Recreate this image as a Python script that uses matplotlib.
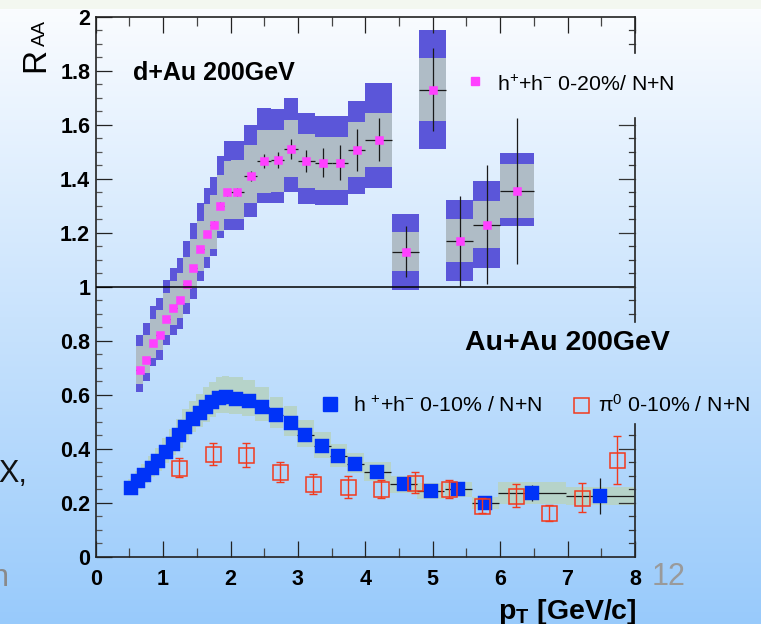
import numpy as np
import matplotlib
matplotlib.use('Agg')
import matplotlib.pyplot as plt
from matplotlib.patches import Rectangle

plt.rcParams['font.family'] = ['Liberation Sans', 'DejaVu Sans']
plt.rcParams['mathtext.fontset'] = 'custom'
plt.rcParams['mathtext.rm'] = 'Liberation Sans'
plt.rcParams['mathtext.it'] = 'Liberation Sans:italic'
plt.rcParams['mathtext.bf'] = 'Liberation Sans:bold'

# d+Au 200GeV, h+ + h- 0-20% / N+N
dau_pt = [0.65, 0.75, 0.85, 0.95, 1.05, 1.15, 1.25, 1.35, 1.45, 1.55, 1.65, 1.75, 1.85, 1.95,
          2.1, 2.3, 2.5, 2.7, 2.9, 3.125, 3.375, 3.625, 3.875, 4.2, 4.6, 5.0, 5.4, 5.8, 6.25]
dau_hw = [0.05, 0.05, 0.05, 0.05, 0.05, 0.05, 0.05, 0.05, 0.05, 0.05, 0.05, 0.05, 0.05, 0.05,
          0.1, 0.1, 0.1, 0.1, 0.1, 0.125, 0.125, 0.125, 0.125, 0.2, 0.2, 0.2, 0.2, 0.2, 0.25]
dau_r = [0.69, 0.73, 0.79, 0.82, 0.88, 0.92, 0.95, 1.01, 1.07, 1.14, 1.195, 1.23, 1.30, 1.35,
         1.35, 1.41, 1.465, 1.47, 1.51, 1.465, 1.46, 1.46, 1.505, 1.545, 1.13, 1.73, 1.17, 1.23, 1.355]
dau_stat = [0.008, 0.008, 0.008, 0.008, 0.008, 0.008, 0.009, 0.009, 0.01, 0.01, 0.011, 0.012, 0.012, 0.013,
            0.015, 0.02, 0.025, 0.03, 0.037, 0.042, 0.053, 0.065, 0.078, 0.08, 0.095, 0.155, 0.167, 0.22, 0.27]
dau_sys_up = [0.09, 0.09, 0.09, 0.095, 0.095, 0.1, 0.1, 0.1, 0.105, 0.105, 0.11, 0.11, 0.115, 0.115,
              0.12, 0.115, 0.115, 0.11, 0.108, 0.1, 0.095, 0.095, 0.104, 0.1, 0.073, 0.117, 0.08, 0.086, 0.1]
dau_sys_dn = [0.05, 0.05, 0.055, 0.055, 0.06, 0.06, 0.065, 0.07, 0.075, 0.08, 0.085, 0.09, 0.095, 0.1,
              0.1, 0.1, 0.117, 0.12, 0.103, 0.1, 0.1, 0.1, 0.1, 0.1, 0.073, 0.117, 0.08, 0.086, 0.1]
dau_tot_up = [0.13, 0.135, 0.14, 0.14, 0.145, 0.15, 0.155, 0.16, 0.165, 0.17, 0.17, 0.175, 0.185, 0.19,
              0.19, 0.19, 0.195, 0.19, 0.19, 0.178, 0.174, 0.174, 0.182, 0.21, 0.141, 0.219, 0.15, 0.16, 0.14]
dau_tot_dn = [0.08, 0.08, 0.085, 0.09, 0.095, 0.1, 0.105, 0.11, 0.115, 0.12, 0.125, 0.115, 0.12, 0.14,
              0.14, 0.15, 0.156, 0.16, 0.158, 0.158, 0.158, 0.158, 0.161, 0.18, 0.141, 0.219, 0.15, 0.16, 0.13]

# Au+Au 200GeV, h+ + h- 0-10% / N+N
auau_pt = [0.53, 0.63, 0.72, 0.83, 0.93, 1.04, 1.14, 1.24, 1.33, 1.44, 1.54, 1.64, 1.73, 1.83, 1.93,
           2.08, 2.27, 2.47, 2.68, 2.89, 3.11, 3.36, 3.60, 3.85, 4.18, 4.57, 4.97, 5.38, 5.78, 6.47, 7.48]
auau_hw = [0.05, 0.05, 0.05, 0.05, 0.05, 0.05, 0.05, 0.05, 0.05, 0.05, 0.05, 0.05, 0.05, 0.05, 0.05,
           0.1, 0.1, 0.1, 0.1, 0.1, 0.125, 0.125, 0.125, 0.125, 0.2, 0.2, 0.2, 0.2, 0.2, 0.5, 0.5]
auau_r = [0.255, 0.28, 0.304, 0.328, 0.354, 0.386, 0.418, 0.449, 0.482, 0.511, 0.534, 0.554, 0.572, 0.587, 0.59,
          0.585, 0.576, 0.556, 0.525, 0.495, 0.451, 0.411, 0.374, 0.345, 0.315, 0.268, 0.244, 0.25, 0.2, 0.237, 0.225]
auau_stat = [0.003, 0.003, 0.003, 0.003, 0.003, 0.003, 0.003, 0.003, 0.003, 0.003, 0.003, 0.003, 0.003, 0.003, 0.003,
             0.004, 0.004, 0.004, 0.005, 0.005, 0.006, 0.006, 0.007, 0.008, 0.01, 0.012, 0.015, 0.018, 0.022, 0.03, 0.065]
auau_sys_up = [0.032, 0.036, 0.04, 0.044, 0.048, 0.052, 0.056, 0.06, 0.064, 0.067, 0.07, 0.073, 0.076, 0.078, 0.08,
               0.08, 0.078, 0.074, 0.068, 0.062, 0.055, 0.05, 0.045, 0.04, 0.036, 0.031, 0.03, 0.028, 0.022, 0.04, 0.035]
auau_sys_dn = [0.028, 0.03, 0.032, 0.034, 0.036, 0.039, 0.042, 0.045, 0.048, 0.05, 0.052, 0.054, 0.055, 0.056, 0.056,
               0.056, 0.055, 0.053, 0.05, 0.048, 0.046, 0.044, 0.04, 0.036, 0.034, 0.031, 0.03, 0.028, 0.022, 0.04, 0.035]

# Au+Au pi0 0-10% / N+N
pi0_pt = [1.24, 1.74, 2.23, 2.73, 3.23, 3.74, 4.23, 4.73, 5.24, 5.73, 6.24, 6.73, 7.22, 7.74]
pi0_r = [0.33, 0.38, 0.377, 0.315, 0.27, 0.259, 0.25, 0.274, 0.251, 0.189, 0.226, 0.161, 0.219, 0.358]
pi0_err = [0.035, 0.042, 0.044, 0.037, 0.037, 0.04, 0.034, 0.038, 0.033, 0.027, 0.042, 0.03, 0.054, 0.09]

x_ticks = [0, 1, 2, 3, 4, 5, 6, 7, 8]
x_labels = ['0', '1', '2', '3', '4', '5', '6', '7', '8']
y_ticks = [0, 0.2, 0.4, 0.6, 0.8, 1.0, 1.2, 1.4, 1.6, 1.8, 2.0]
y_labels = ['0', '0.2', '0.4', '0.6', '0.8', '1', '1.2', '1.4', '1.6', '1.8', '2']

c_mag = '#ff40ff'
c_box_out = '#5b56d9'
c_box_in = '#afbcc6'
c_blue = '#0033f8'
c_band = '#b6d3c9'
c_red = '#f23a1e'

W, H = 761, 624
fig = plt.figure(figsize=(W / 100, H / 100), dpi=100)

# slide background: thin pale strip on top, then white -> light blue
bg = fig.add_axes([0, 0, 1, 1], zorder=-5)
grad = np.zeros((H, 1, 3))
top = np.array([250, 252, 255]) / 255.0
bot = np.array([152, 202, 251]) / 255.0
for row in range(H):
    t = max(row - 9, 0) / (H - 9)
    grad[row, 0] = top + (bot - top) * t
grad[:9, 0] = np.array([243, 247, 240]) / 255.0
bg.imshow(grad, aspect='auto', extent=[0, 1, 0, 1])
bg.set_axis_off()

x0, y0, x1, y1 = 95.7, 556.7, 635.0, 16.7
ax = fig.add_axes([x0 / W, (H - y0) / H, (x1 - x0) / W, (y0 - y1) / H])
ax.set_facecolor('none')
ax.set_xlim(0, 8)
ax.set_ylim(0, 2)

# d+Au systematic boxes
for p, hw, r, up, dn in zip(dau_pt, dau_hw, dau_r, dau_tot_up, dau_tot_dn):
    ax.add_patch(Rectangle((p - hw, r - dn), 2 * hw, up + dn, fc=c_box_out, ec='none', zorder=1))
for p, hw, r, up, dn in zip(dau_pt, dau_hw, dau_r, dau_sys_up, dau_sys_dn):
    ax.add_patch(Rectangle((p - hw, r - dn), 2 * hw, up + dn, fc=c_box_in, ec='none', zorder=1.1))
ax.errorbar(dau_pt, dau_r, yerr=dau_stat, xerr=dau_hw, fmt='none', ecolor='#1a1a1a',
            elinewidth=0.9, capsize=0, zorder=3)
ax.plot(dau_pt, dau_r, 's', ms=5.2, mfc=c_mag, mec=c_mag, mew=0.4, ls='none', zorder=4)

# Au+Au charged hadrons
for p, hw, r, up, dn in zip(auau_pt, auau_hw, auau_r, auau_sys_up, auau_sys_dn):
    ax.add_patch(Rectangle((p - hw, r - dn), 2 * hw, up + dn, fc=c_band, ec='none', zorder=1.5))
ax.errorbar(auau_pt, auau_r, yerr=auau_stat, xerr=auau_hw, fmt='none', ecolor='#1a1a1a',
            elinewidth=0.9, capsize=0, zorder=3)
ax.plot(auau_pt, auau_r, 's', ms=10.3, mfc=c_blue, mec=c_blue, mew=0.3, ls='none', zorder=4)

# Au+Au pi0
ax.errorbar(pi0_pt, pi0_r, yerr=pi0_err, fmt='none', ecolor=c_red, elinewidth=1.0,
            capsize=3.2, capthick=1.0, zorder=5)
ax.plot(pi0_pt, pi0_r, 's', ms=10.8, mfc='none', mec=c_red, mew=1.1, ls='none', zorder=5)

ax.axhline(1.0, color='black', lw=1.1, zorder=6)

# axes / ticks in ROOT style
ax.spines['right'].set_visible(False)
for s in ['left', 'bottom', 'top']:
    ax.spines[s].set_linewidth(1.2)
    ax.spines[s].set_color('#222222')
ax.set_xticks(x_ticks)
ax.set_xticklabels(x_labels)
ax.set_xticks([0.5, 1.5, 2.5, 3.5, 4.5, 5.5, 6.5, 7.5], minor=True)
ax.set_yticks(y_ticks)
ax.set_yticklabels(y_labels)
ax.set_yticks([v / 20 for v in range(41)], minor=True)
ax.tick_params(axis='x', which='major', direction='in', length=11.5, width=0.9, top=True,
               color='#222222', pad=9, labelsize=15.5)
ax.tick_params(axis='x', which='minor', direction='in', length=6.2, width=0.9, top=True, color='#444444')
ax.tick_params(axis='y', which='major', direction='in', length=11.5, width=0.9, right=False,
               color='#222222', pad=4, labelsize=15.5)
ax.tick_params(axis='y', which='minor', direction='in', length=4.3, width=0.9, right=False, color='#555555')
for lab in ax.get_xticklabels() + ax.get_yticklabels():
    lab.set_fontweight('bold')

# right axis, broken where the legend boxes sit
ytr = ax.get_yaxis_transform()
for lo, hi in [(0.0, 0.491), (0.869, 1.624), (1.865, 2.0)]:
    ax.plot([1, 1], [lo, hi], color='#222222', lw=1.2, transform=ytr, clip_on=False, zorder=7)
for k in range(41):
    v = k / 20
    if (0.491 < v < 0.869) or (1.624 < v < 1.865) or k in (0, 40):
        continue
    ln = 0.0297 if k % 4 == 0 else 0.011
    ax.plot([1 - ln, 1], [v, v], color='#333333', lw=0.9, transform=ytr, clip_on=False, zorder=7)

# texts and legends
fig.text(133 / W, 1 - 80 / H, 'd+Au 200GeV', fontsize=18, fontweight='bold', va='baseline')
fig.text(465 / W, 1 - 350 / H, 'Au+Au 200GeV', fontsize=20.5, fontweight='bold', va='baseline')

ta = ax.transAxes
def ax_pos(px, py):
    return (px - x0) / (x1 - x0), (y0 - py) / (y0 - y1)

mx, my = ax_pos(475, 80.7)
ax.plot([mx], [my], 's', ms=5.2, mfc=c_mag, mec=c_mag, transform=ta, clip_on=False)
tx, ty = ax_pos(497, 90.7)
ax.text(tx, ty, r'h$^{+}$+h$^{-}$ 0-20%/ N+N', fontsize=15.3, va='baseline', transform=ta)

mx, my = ax_pos(330, 404)
ax.plot([mx], [my], 's', ms=10.3, mfc=c_blue, mec=c_blue, transform=ta, clip_on=False)
tx, ty = ax_pos(353, 412.3)
ax.text(tx, ty, r'h $^{+}$+h$^{-}$ 0-10% / N+N', fontsize=15.3, va='baseline', transform=ta)

mx, my = ax_pos(581, 404.5)
ax.plot([mx], [my], 's', ms=10.8, mfc='none', mec=c_red, mew=1.1, transform=ta, clip_on=False)
tx, ty = ax_pos(598, 412.3)
ax.text(tx, ty, r'π$^{0}$ 0-10% / N+N', fontsize=15.3, va='baseline', transform=ta)

# axis titles
fig.text(51 / W, 1 - 72 / H, 'R', fontsize=24, rotation=90, ha='right', va='bottom')
fig.text(49 / W, 1 - 46 / H, 'AA', fontsize=14, rotation=90, ha='right', va='bottom')
fig.text(498 / W, 1 - 618.7 / H, r'$\mathbf{p_{T}}$ [GeV/c]', fontsize=20.5, fontweight='bold',
         va='baseline')

# slide remnants
fig.text(652 / W, 1 - 585 / H, '12', fontsize=22, color='#9a9a9a', va='baseline')
fig.text(27 / W, 1 - 482 / H, 'X,', fontsize=22, color='#111111', ha='right', va='baseline')
fig.text(9 / W, 1 - 586 / H, 'n', fontsize=22, color='#8a8a8a', ha='right', va='baseline')

fig.savefig('out.png', dpi=100)
